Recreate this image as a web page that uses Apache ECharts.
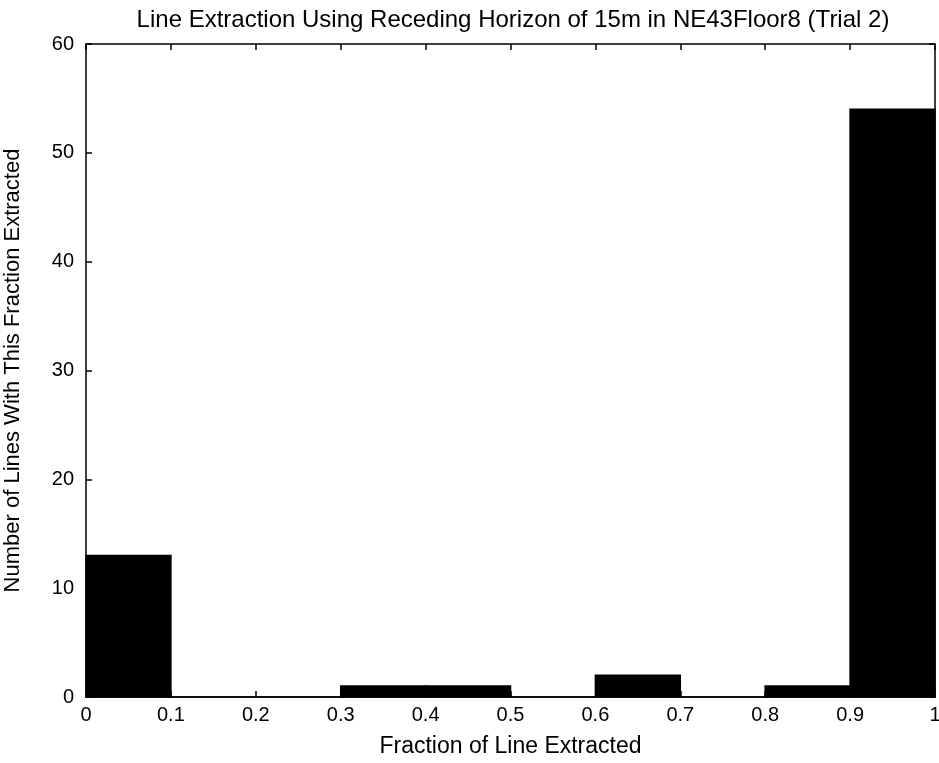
<!DOCTYPE html>
<html>
<head>
<meta charset="utf-8">
<script src="https://cdn.jsdelivr.net/npm/echarts@6/dist/echarts.min.js"></script>
<style>
  html, body { margin: 0; padding: 0; background: #fff; }
  #chart { width: 939px; height: 763px; }
</style>
</head>
<body>
<div id="chart"></div>
<script>
// Histogram bins (left edge, right edge) and counts
const binStarts = [0.0, 0.1, 0.2, 0.3, 0.4, 0.5, 0.6, 0.7, 0.8, 0.9];
const binEnds   = [0.1, 0.2, 0.3, 0.4, 0.5, 0.6, 0.7, 0.8, 0.9, 1.0];
const counts    = [13, 0, 0, 1, 1, 0, 2, 0, 1, 54];

const titleText = 'Line Extraction Using Receding Horizon of 15m in NE43Floor8 (Trial 2)';
const xTitle = 'Fraction of Line Extracted';
const yTitle = 'Number of Lines With This Fraction Extracted';

const font = '"Liberation Sans", Arial, sans-serif';

const data = binStarts.map((s, i) => [s, binEnds[i], counts[i]]);

const chart = echarts.init(document.getElementById('chart'));

const axisCommon = {
  axisLine: { show: true, onZero: false, lineStyle: { color: '#000', width: 1.5 } },
  axisTick: { show: true, inside: true, length: 6, lineStyle: { color: '#000', width: 1.5 } },
  splitLine: { show: false }
};

chart.setOption({
  backgroundColor: '#fff',
  animation: false,
  title: {
    text: titleText,
    left: 508, top: 3, textAlign: 'center',
    textStyle: { fontFamily: font, fontSize: 24, fontWeight: 'normal', color: '#000' }
  },
  grid: { left: 86, right: 4, top: 44, bottom: 66, containLabel: false, outerBoundsMode: 'none' },
  xAxis: [
    Object.assign({
      type: 'value', min: 0, max: 1, interval: 0.1, position: 'bottom',
      name: xTitle, nameLocation: 'middle', nameGap: 38,
      nameTextStyle: { fontFamily: font, fontSize: 23, color: '#000' },
      axisLabel: { fontFamily: font, fontSize: 20, color: '#000', margin: 8,
        formatter: v => (Math.round(v * 10) / 10).toString() }
    }, axisCommon),
    Object.assign({
      type: 'value', min: 0, max: 1, interval: 0.1, position: 'top',
      axisLabel: { show: false }
    }, axisCommon)
  ],
  yAxis: [
    Object.assign({
      type: 'value', min: 0, max: 60, interval: 10, position: 'left',
      name: yTitle, nameLocation: 'middle', nameGap: 62,
      nameTextStyle: { fontFamily: font, fontSize: 22, color: '#000' },
      axisLabel: { fontFamily: font, fontSize: 20, color: '#000', margin: 12 }
    }, axisCommon),
    Object.assign({
      type: 'value', min: 0, max: 60, interval: 10, position: 'right',
      axisLabel: { show: false }
    }, axisCommon)
  ],
  series: [{
    type: 'custom',
    xAxisIndex: 0, yAxisIndex: 0,
    data: data,
    encode: { x: [0, 1], y: 2 },
    renderItem: function (params, api) {
      const p0 = api.coord([api.value(0), 0]);
      const p1 = api.coord([api.value(1), api.value(2)]);
      return {
        type: 'rect',
        shape: { x: p0[0], y: p1[1], width: p1[0] - p0[0], height: p0[1] - p1[1] },
        style: { fill: '#000', stroke: '#000', lineWidth: 1.5 }
      };
    }
  }]
});
</script>
</body>
</html>
